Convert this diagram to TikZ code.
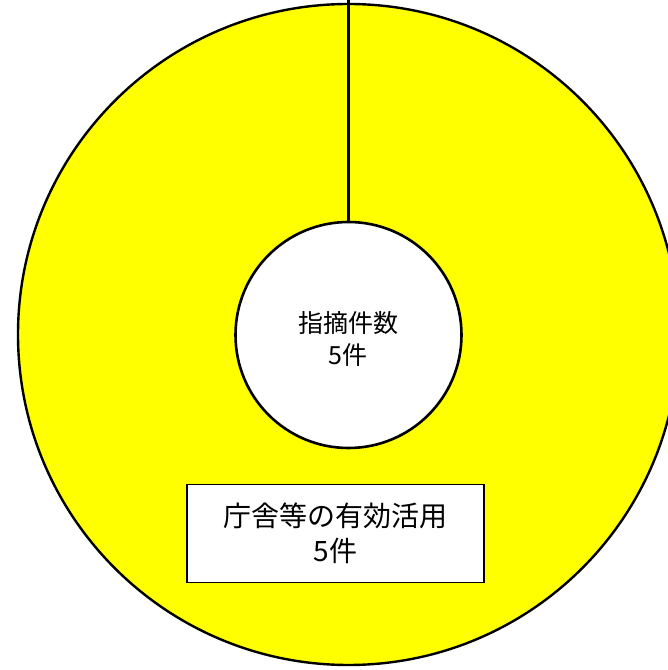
\documentclass[tikz,border=0pt]{standalone}
\usepackage{fontspec}
\newfontfamily\jpfont{Noto Sans CJK JP}
\definecolor{donut}{HTML}{FFFF00}
\begin{document}
\begin{tikzpicture}[x=1pt,y=1pt,
  ring/.style={draw=black,line width=2.4pt,fill=donut},
  hole/.style={circle,draw=black,line width=2.6pt,fill=white,minimum size=226pt,inner sep=0pt},
  labelbox/.style={draw=black,line width=1.8pt,fill=white,minimum width=297pt,minimum height=98pt,inner sep=0pt,align=center},
  sep/.style={draw=black,line width=2.2pt}]
\useasboundingbox (0,0) rectangle (668,670);
\clip (0,0) rectangle (668,670);
\fill[white] (0,0) rectangle (668,670);
\path[ring] (348.5,335.5) circle (330.5);
\node[hole] (center) at (348.5,335) {};
\coordinate (top) at (348.5,670);
\draw[sep] (top) -- (center.north);
\node[align=center,font=\jpfont\fontsize{25}{32}\selectfont] (ctext) at (348,331) {指摘件数\\5件};
\node[labelbox,font=\jpfont\fontsize{28}{35}\selectfont] (lbl) at (335.5,136.5) {庁舎等の有効活用\\5件};
\end{tikzpicture}
\end{document}
